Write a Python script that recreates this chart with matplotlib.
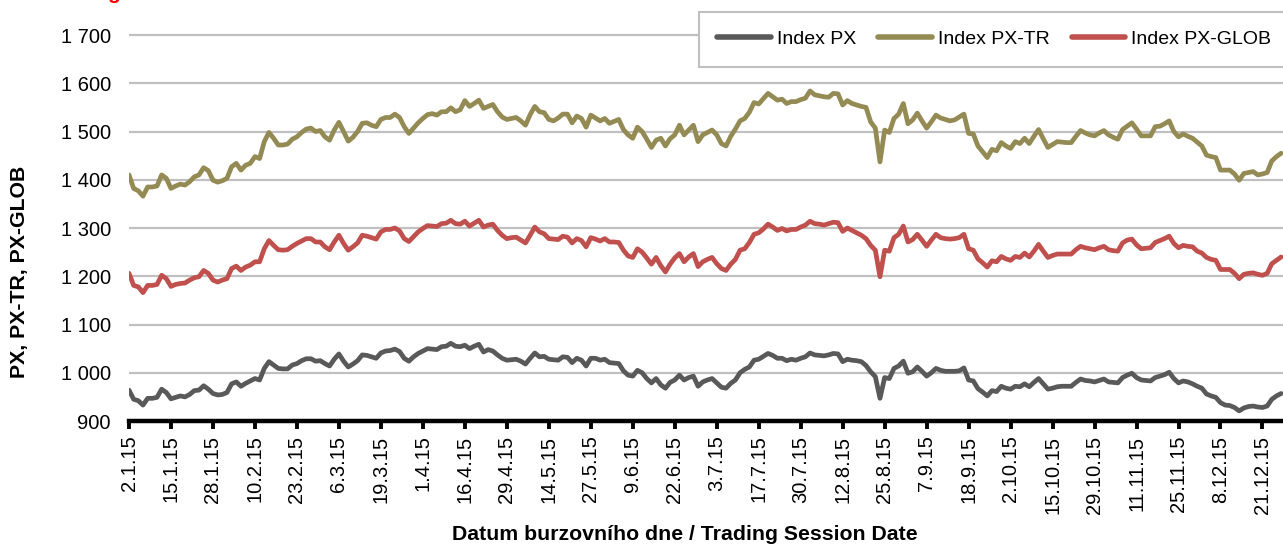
import numpy as np
import matplotlib
matplotlib.use("Agg")
import matplotlib.pyplot as plt
from matplotlib.ticker import FuncFormatter, FixedLocator

plt.rcParams['font.family'] = ['Liberation Sans', 'DejaVu Sans']

# ---- data (one value per trading session, 2.1.2015 onward) ----
px = [964, 945, 942, 933, 947, 947, 949, 966, 959, 946, 949, 952, 950, 955, 963, 964, 973, 966, 957, 954,
      955, 959, 977, 981, 972, 978, 983, 988, 985, 1009, 1023, 1016, 1009, 1008, 1008, 1016, 1019, 1025, 1029, 1029,
      1024, 1025, 1019, 1014, 1028, 1039, 1024, 1012, 1018, 1025, 1037, 1036, 1033, 1030, 1041, 1045, 1046, 1049, 1044, 1030,
      1024, 1033, 1040, 1045, 1050, 1049, 1048, 1054, 1055, 1061, 1055, 1054, 1057, 1050, 1055, 1059, 1043, 1048, 1045, 1037,
      1030, 1026, 1027, 1028, 1024, 1018, 1030, 1041, 1033, 1034, 1028, 1027, 1026, 1033, 1032, 1021, 1030, 1026, 1014, 1030,
      1030, 1026, 1028, 1021, 1020, 1019, 1004, 995, 993, 1005, 1000, 988, 979, 988, 975, 968, 980, 985, 995, 985,
      990, 993, 972, 981, 985, 988, 979, 970, 968, 978, 985, 1000, 1007, 1012, 1026, 1028, 1034, 1040, 1036, 1030,
      1030, 1025, 1028, 1026, 1030, 1033, 1041, 1037, 1036, 1035, 1037, 1040, 1039, 1023, 1028, 1026, 1025, 1023, 1015, 1002,
      992, 947, 990, 988, 1009, 1014, 1024, 999, 1002, 1012, 1003, 993, 1000, 1009, 1005, 1003, 1003, 1003, 1004, 1010,
      985, 983, 967, 960, 952, 963, 961, 972, 968, 966, 972, 971, 977, 971, 980, 988, 977, 966, 968, 971,
      972, 972, 972, 980, 987, 984, 983, 981, 984, 987, 981, 980, 979, 990, 995, 999, 990, 985, 984, 983,
      990, 993, 996, 1001, 988, 979, 983, 981, 977, 972, 968, 956, 952, 949, 938, 933, 932, 928, 921, 927,
      930, 931, 929, 928, 931, 945, 952, 957]

px_tr = [1410, 1382, 1377, 1366, 1385, 1385, 1387, 1410, 1403, 1382, 1387, 1391, 1389, 1396, 1406, 1410, 1425, 1419, 1399, 1395,
         1398, 1403, 1427, 1434, 1420, 1430, 1434, 1448, 1444, 1479, 1498, 1486, 1472, 1472, 1474, 1484, 1489, 1498, 1505, 1507,
         1500, 1502, 1489, 1482, 1503, 1519, 1500, 1480, 1488, 1500, 1517, 1518, 1513, 1510, 1525, 1529, 1529, 1536, 1529, 1510,
         1496, 1507, 1518, 1527, 1535, 1537, 1534, 1541, 1541, 1549, 1541, 1545, 1564, 1552, 1558, 1565, 1548, 1552, 1556, 1541,
         1530, 1525, 1527, 1529, 1522, 1513, 1535, 1552, 1541, 1539, 1525, 1522, 1528, 1536, 1536, 1518, 1532, 1527, 1509, 1534,
         1528, 1522, 1527, 1517, 1521, 1525, 1504, 1493, 1486, 1509, 1500, 1484, 1467, 1482, 1486, 1470, 1485, 1493, 1513, 1493,
         1503, 1513, 1479, 1493, 1498, 1503, 1493, 1475, 1470, 1490, 1505, 1522, 1527, 1540, 1560, 1557, 1568, 1579, 1572, 1565,
         1567, 1558, 1562, 1562, 1566, 1569, 1584, 1576, 1574, 1572, 1571, 1579, 1578, 1555, 1564, 1558, 1555, 1552, 1550, 1520,
         1507, 1437, 1503, 1498, 1527, 1536, 1558, 1516, 1524, 1538, 1522, 1507, 1520, 1534, 1528, 1525, 1522, 1524, 1530, 1536,
         1496, 1495, 1470, 1458, 1446, 1463, 1460, 1477, 1470, 1465, 1479, 1475, 1486, 1475, 1490, 1504, 1485, 1467, 1473, 1479,
         1478, 1477, 1477, 1490, 1502, 1497, 1493, 1491, 1497, 1502, 1493, 1488, 1484, 1504, 1511, 1518, 1505, 1491, 1491, 1491,
         1510, 1511, 1516, 1522, 1500, 1489, 1495, 1490, 1486, 1478, 1470, 1451, 1448, 1446, 1420, 1420, 1420, 1412, 1399, 1413,
         1415, 1417, 1410, 1412, 1415, 1439, 1448, 1455]

px_glob = [1206, 1181, 1178, 1166, 1181, 1181, 1183, 1202, 1195, 1179, 1183, 1185, 1186, 1192, 1197, 1199, 1212, 1206, 1192, 1188,
           1192, 1195, 1216, 1221, 1212, 1219, 1223, 1230, 1230, 1257, 1274, 1264, 1255, 1254, 1255, 1262, 1268, 1273, 1278, 1278,
           1271, 1271, 1261, 1255, 1271, 1285, 1268, 1254, 1261, 1269, 1285, 1283, 1280, 1277, 1292, 1297, 1297, 1300, 1294, 1278,
           1272, 1282, 1292, 1299, 1305, 1304, 1303, 1309, 1310, 1316, 1309, 1308, 1314, 1304, 1310, 1316, 1302, 1306, 1308, 1295,
           1285, 1278, 1280, 1281, 1275, 1269, 1285, 1302, 1292, 1288, 1278, 1277, 1276, 1283, 1281, 1269, 1278, 1274, 1261, 1280,
           1277, 1273, 1278, 1271, 1271, 1270, 1254, 1242, 1239, 1257, 1250, 1238, 1225, 1239, 1222, 1209, 1225, 1238, 1247, 1230,
           1240, 1247, 1220, 1230, 1235, 1239, 1226, 1216, 1212, 1225, 1235, 1254, 1257, 1270, 1287, 1290, 1298, 1308, 1302, 1295,
           1299, 1294, 1297, 1297, 1302, 1306, 1314, 1309, 1308, 1306, 1309, 1312, 1311, 1293, 1300, 1295, 1290, 1285, 1278, 1264,
           1254, 1199, 1254, 1252, 1280, 1287, 1304, 1271, 1276, 1287, 1275, 1262, 1275, 1287, 1280, 1278, 1277, 1278, 1280, 1287,
           1257, 1254, 1236, 1228, 1219, 1232, 1230, 1241, 1236, 1233, 1241, 1239, 1248, 1240, 1252, 1266, 1252, 1239, 1243, 1246,
           1246, 1246, 1246, 1255, 1262, 1259, 1257, 1255, 1259, 1262, 1255, 1253, 1252, 1269, 1275, 1277, 1265, 1257, 1258, 1259,
           1270, 1274, 1278, 1283, 1268, 1259, 1264, 1262, 1261, 1252, 1248, 1239, 1235, 1233, 1214, 1214, 1214, 1206, 1195, 1204,
           1206, 1207, 1204, 1202, 1206, 1226, 1233, 1240]

tick_labels = ["2.1.15", "15.1.15", "28.1.15", "10.2.15", "23.2.15", "6.3.15", "19.3.15", "1.4.15",
               "16.4.15", "29.4.15", "14.5.15", "27.5.15", "9.6.15", "22.6.15", "3.7.15", "17.7.15",
               "30.7.15", "12.8.15", "25.8.15", "7.9.15", "18.9.15", "2.10.15", "15.10.15", "29.10.15",
               "11.11.15", "25.11.15", "8.12.15", "21.12.15"]
tick_step = 9  # sessions between labelled ticks

series_names = ["Index PX", "Index PX-TR", "Index PX-GLOB"]
series_colors = ["#595959", "#948A54", "#C0504D"]

# ---- figure ----
W, H = 1283, 546
fig = plt.figure(figsize=(W / 100, H / 100), dpi=100)
ax_left = 129 / W
ax_bottom = 1 - 421 / H
ax = fig.add_axes([ax_left, ax_bottom, 1 - ax_left, 1 - ax_bottom])

x = np.arange(len(px))
for vals, name, col in zip([px, px_tr, px_glob], series_names, series_colors):
    ax.plot(x, vals, color=col, lw=3.4, label=name, solid_joinstyle='round', solid_capstyle='round', zorder=3)

ax.set_xlim(0, 247.4)
ax.set_ylim(900, 900 + 421 / 0.4825)
ax.set_yticks(np.arange(900, 1701, 100))
ax.yaxis.set_major_formatter(FuncFormatter(lambda v, p: f"{v:,.0f}".replace(",", " ")))
ax.grid(axis='y', color='#c0c0c0', lw=1.6, zorder=0)
ax.set_axisbelow(True)

ax.xaxis.set_major_locator(FixedLocator(np.arange(len(tick_labels)) * tick_step))
ax.set_xticklabels(tick_labels, rotation=90)

for s in ['left', 'right', 'top']:
    ax.spines[s].set_visible(False)
ax.spines['bottom'].set_linewidth(3.2)
ax.spines['bottom'].set_color('black')
ax.spines['bottom'].set_zorder(4)
ax.tick_params(axis='x', direction='out', length=5.5, width=2.8, color='black', labelsize=14.5, pad=5)
ax.tick_params(axis='y', length=0, labelsize=14.5, pad=13)

fig.text(20 / W, 1 - 272 / H, "PX, PX-TR, PX-GLOB", rotation=90, fontsize=15.3, fontweight='bold',
         ha='center', va='center')
fig.text(685 / W, 1 - 535 / H, "Datum burzovního dne / Trading Session Date", fontsize=15.3,
         fontweight='bold', ha='center', va='center')

# descender of the cropped red heading above the chart
fig.text(113 / W, 1 + 1 / H, "g", color='red', fontsize=15, fontweight='bold', ha='center', va='baseline')

leg = fig.legend(loc='upper left', bbox_to_anchor=(699 / W, 1 - 12 / H), ncol=3, frameon=True,
                 fontsize=14, handlelength=2.75, handletextpad=0.3, columnspacing=1.15,
                 borderpad=0.95, borderaxespad=0, fancybox=False)
leg.get_frame().set_edgecolor('#bfbfbf')
leg.get_frame().set_linewidth(1.5)
leg.get_frame().set_facecolor('white')
leg.get_frame().set_alpha(1)
for h in leg.get_lines():
    h.set_linewidth(4)

fig.savefig("out.png", dpi=100)
